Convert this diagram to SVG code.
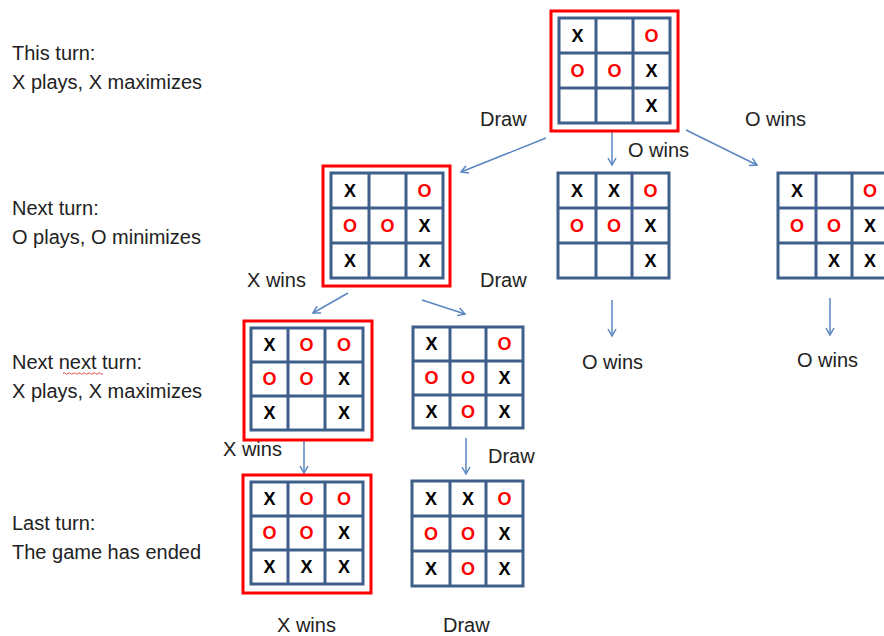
<svg xmlns="http://www.w3.org/2000/svg" width="884" height="636" viewBox="0 0 884 636">
<defs>
<style>
.grid{fill:#fff;stroke:#3E5F8A;stroke-width:3}
.gl{stroke:#3E5F8A;stroke-width:3;fill:none}
.frame{fill:none;stroke:#FF0000;stroke-width:3}
.x{font-family:"Liberation Sans",Arial,sans-serif;font-weight:bold;font-size:18px;fill:#000;text-anchor:middle}
.o{font-family:"Liberation Sans",Arial,sans-serif;font-weight:bold;font-size:18px;fill:#FF0000;text-anchor:middle}
.lbl{font-family:"Liberation Sans",Arial,sans-serif;font-size:20px;fill:#222}
.conn{stroke:#5A86C0;stroke-width:1.5;fill:none;marker-end:url(#ah)}
</style>
<marker id="ah" markerUnits="userSpaceOnUse" markerWidth="12" markerHeight="12" refX="8" refY="4.5" orient="auto">
<path d="M1,0.5 L8,4.5 L1,8.5" fill="none" stroke="#5A86C0" stroke-width="1.5"/>
</marker>
</defs>
<rect width="884" height="636" fill="#fff"/>

<g id="labels-left">
<text class="lbl" x="12" y="60">This turn:</text>
<text class="lbl" x="12" y="89">X plays, X maximizes</text>
<text class="lbl" x="12" y="215">Next turn:</text>
<text class="lbl" x="12" y="244">O plays, O minimizes</text>
<text class="lbl" x="12" y="369">Next next turn:</text>
<path d="M63,373.5 q1.25,-1.5 2.5,0 t2.5,0 t2.5,0 t2.5,0 t2.5,0 t2.5,0 t2.5,0 t2.5,0 t2.5,0 t2.5,0 t2.5,0 t2.5,0 t2.5,0 t2.5,0 t2.5,0 t2.5,0" fill="none" stroke="#E03030" stroke-width="0.9"/>
<text class="lbl" x="12" y="398">X plays, X maximizes</text>
<text class="lbl" x="12" y="530">Last turn:</text>
<text class="lbl" x="12" y="559">The game has ended</text>
</g>

<g id="connectors">
<line class="conn" x1="546" y1="138" x2="461" y2="172"/>
<line class="conn" x1="612" y1="131" x2="612" y2="165"/>
<line class="conn" x1="686" y1="130" x2="757" y2="165"/>
<line class="conn" x1="348" y1="293" x2="313" y2="313"/>
<line class="conn" x1="422" y1="300" x2="465" y2="314"/>
<line class="conn" x1="304" y1="441" x2="304" y2="473"/>
<line class="conn" x1="466" y1="438" x2="466" y2="474"/>
<line class="conn" x1="612" y1="300" x2="612" y2="336"/>
<line class="conn" x1="830" y1="298" x2="830" y2="335"/>
</g>

<g id="edge-labels">
<text class="lbl" x="480" y="126">Draw</text>
<text class="lbl" x="628" y="157">O wins</text>
<text class="lbl" x="745" y="126">O wins</text>
<text class="lbl" x="247" y="287">X wins</text>
<text class="lbl" x="480" y="287">Draw</text>
<text class="lbl" x="223" y="456">X wins</text>
<text class="lbl" x="488" y="463">Draw</text>
<text class="lbl" x="582" y="369">O wins</text>
<text class="lbl" x="797" y="367">O wins</text>
<text class="lbl" x="277" y="632">X wins</text>
<text class="lbl" x="443" y="632">Draw</text>
</g>

<g id="boardA">
<rect class="frame" x="551" y="11" width="127" height="120"/>
<rect class="grid" x="559" y="18" width="111" height="105"/>
<path class="gl" d="M596,18V123M633,18V123M559,53H670M559,88H670"/>
<text class="x" x="577.5" y="42">X</text><text class="o" x="651.5" y="42">O</text>
<text class="o" x="577.5" y="77">O</text><text class="o" x="614.5" y="77">O</text><text class="x" x="651.5" y="77">X</text>
<text class="x" x="651.5" y="112">X</text>
</g>

<g id="boardB">
<rect class="frame" x="323" y="166" width="127" height="120"/>
<rect class="grid" x="331" y="173" width="112" height="105"/>
<path class="gl" d="M369,173V278M406,173V278M331,208H443M331,243H443"/>
<text class="x" x="350" y="197">X</text><text class="o" x="424.5" y="197">O</text>
<text class="o" x="350" y="232">O</text><text class="o" x="387.5" y="232">O</text><text class="x" x="424.5" y="232">X</text>
<text class="x" x="350" y="267">X</text><text class="x" x="424.5" y="267">X</text>
</g>

<g id="boardC">
<rect class="grid" x="558" y="173" width="111" height="105"/>
<path class="gl" d="M596,173V278M632,173V278M558,208H669M558,243H669"/>
<text class="x" x="577" y="197">X</text><text class="x" x="614" y="197">X</text><text class="o" x="650.5" y="197">O</text>
<text class="o" x="577" y="232">O</text><text class="o" x="614" y="232">O</text><text class="x" x="650.5" y="232">X</text>
<text class="x" x="650.5" y="267">X</text>
</g>

<g id="boardD">
<rect class="grid" x="778" y="173" width="111" height="105"/>
<path class="gl" d="M816,173V278M852,173V278M778,208H889M778,243H889"/>
<text class="x" x="797" y="197">X</text><text class="o" x="870" y="197">O</text>
<text class="o" x="797" y="232">O</text><text class="o" x="834" y="232">O</text><text class="x" x="870" y="232">X</text>
<text class="x" x="834" y="267">X</text><text class="x" x="870" y="267">X</text>
</g>

<g id="boardE">
<rect class="frame" x="244" y="321" width="128" height="119"/>
<rect class="grid" x="251" y="328" width="112" height="102"/>
<path class="gl" d="M288,328V430M325,328V430M251,362H363M251,396H363"/>
<text class="x" x="269.5" y="351">X</text><text class="o" x="306.5" y="351">O</text><text class="o" x="344" y="351">O</text>
<text class="o" x="269.5" y="385">O</text><text class="o" x="306.5" y="385">O</text><text class="x" x="344" y="385">X</text>
<text class="x" x="269.5" y="419">X</text><text class="x" x="344" y="419">X</text>
</g>

<g id="boardF">
<rect class="grid" x="413" y="327" width="110" height="101"/>
<path class="gl" d="M450,327V428M486,327V428M413,361H523M413,395H523"/>
<text class="x" x="431.5" y="350">X</text><text class="o" x="504.5" y="350">O</text>
<text class="o" x="431.5" y="384">O</text><text class="o" x="468" y="384">O</text><text class="x" x="504.5" y="384">X</text>
<text class="x" x="431.5" y="418">X</text><text class="o" x="468" y="418">O</text><text class="x" x="504.5" y="418">X</text>
</g>

<g id="boardG">
<rect class="frame" x="243" y="475" width="128" height="118"/>
<rect class="grid" x="251" y="482" width="112" height="102"/>
<path class="gl" d="M288,482V584M325,482V584M251,516H363M251,550H363"/>
<text class="x" x="269.5" y="505">X</text><text class="o" x="306.5" y="505">O</text><text class="o" x="344" y="505">O</text>
<text class="o" x="269.5" y="539">O</text><text class="o" x="306.5" y="539">O</text><text class="x" x="344" y="539">X</text>
<text class="x" x="269.5" y="573">X</text><text class="x" x="306.5" y="573">X</text><text class="x" x="344" y="573">X</text>
</g>

<g id="boardH">
<rect class="grid" x="412" y="481" width="111" height="105"/>
<path class="gl" d="M450,481V586M486,481V586M412,516H523M412,551H523"/>
<text class="x" x="431" y="505">X</text><text class="x" x="468" y="505">X</text><text class="o" x="504.5" y="505">O</text>
<text class="o" x="431" y="540">O</text><text class="o" x="468" y="540">O</text><text class="x" x="504.5" y="540">X</text>
<text class="x" x="431" y="575">X</text><text class="o" x="468" y="575">O</text><text class="x" x="504.5" y="575">X</text>
</g>
</svg>
